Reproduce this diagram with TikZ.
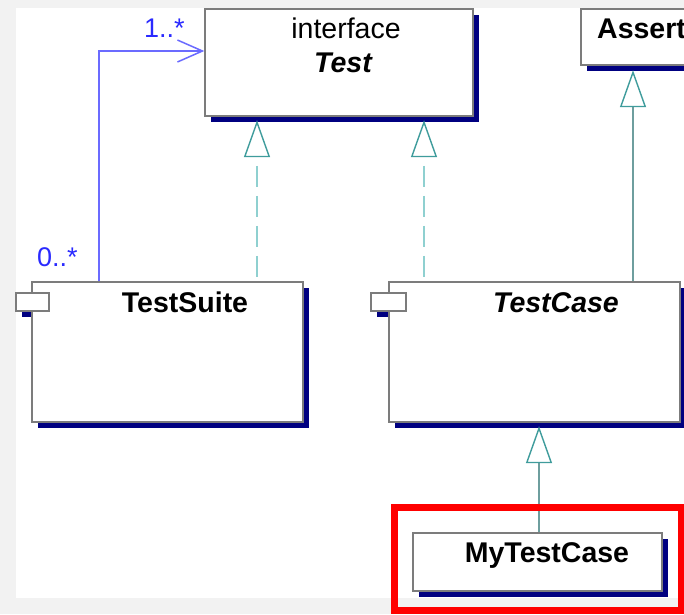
\documentclass[tikz,border=0pt]{standalone}
\usepackage{fontspec}
\setmainfont{Liberation Sans}
\usetikzlibrary{arrows.meta,shadows,calc}

\definecolor{pageedge}{HTML}{F2F2F2}
\definecolor{boxgray}{HTML}{7C7C7C}
\definecolor{shadownavy}{HTML}{000080}
\definecolor{tealpale}{HTML}{8FD0D0}
\definecolor{tealdark}{HTML}{3F9C9C}
\definecolor{tealline}{HTML}{6E9E9E}
\definecolor{assocblue}{HTML}{6B6BFF}
\definecolor{multblue}{HTML}{2A2AFF}

\newcommand\umlfs{\fontsize{28.5}{32}\selectfont}

\tikzset{
  classbox/.style={draw=boxgray, line width=1.4pt, fill=white, inner sep=0pt,
    general shadow={fill=shadownavy, shadow xshift=6pt, shadow yshift=-6pt}},
  tabbox/.style={draw=boxgray, line width=1.2pt, fill=white, inner sep=0pt},
  plainname/.style={font=\umlfs, inner sep=0pt, anchor=base},
  boldname/.style={font=\umlfs\bfseries, inner sep=0pt, anchor=base},
  abstractname/.style={font=\umlfs\bfseries\itshape, inner sep=0pt, anchor=base},
  mult/.style={font=\fontsize{27}{30}\selectfont, text=multblue, inner sep=0pt, anchor=base west},
  realize/.style={draw=tealpale, line width=1.5pt, dash pattern=on 21pt off 9pt, dash phase=21pt,
    {Triangle[length=37pt, width=26pt, fill=white, color=tealdark, line width=1.4pt]}-},
  generalize/.style={draw=tealline, line width=1.4pt,
    {Triangle[length=37pt, width=26pt, fill=white, color=tealdark, line width=1.4pt]}-},
  assoc/.style={draw=assocblue, line width=1.5pt,
    -{Straight Barb[length=25pt, width=22pt, line width=1.5pt]}},
  focusframe/.style={draw=red, line width=7pt, inner sep=0pt}
}

\begin{document}
\begin{tikzpicture}[x=1pt, y=-1pt]
  \useasboundingbox (0,0) rectangle (684,614);
  \clip (0,0) rectangle (684,614);

  % sheet
  \fill[pageedge] (0,0) rectangle (684,614);
  \fill[white] (16,8) rectangle (684,598);

  % interface Test
  \node[classbox, minimum width=268pt, minimum height=107pt] (test) at (339,62.5) {};
  \node[plainname] (testkw) at (346,38) {interface};
  \node[abstractname] (testname) at (343,72) {Test};

  % Assert
  \node[classbox, minimum width=160pt, minimum height=56pt] (assert) at (661,37) {};
  \node[boldname, anchor=base west] (assertname) at (597,38) {Assert};

  % TestSuite
  \fill[shadownavy] (22,299) rectangle (55,317);
  \node[classbox, minimum width=271pt, minimum height=140pt] (suite) at (167.5,352) {};
  \node[tabbox, minimum width=33pt, minimum height=18pt] (suitetab) at (32.5,302) {};
  \node[boldname] (suitename) at (185,312) {TestSuite};

  % TestCase
  \fill[shadownavy] (377,299) rectangle (412,317);
  \node[classbox, minimum width=291pt, minimum height=140pt] (case) at (534.5,352) {};
  \node[tabbox, minimum width=35pt, minimum height=18pt] (casetab) at (388.5,302) {};
  \node[abstractname] (casename) at (556,312) {TestCase};

  % MyTestCase
  \node[classbox, minimum width=249pt, minimum height=58pt] (mytest) at (537.5,562) {};
  \node[boldname] (mytestname) at (547,562) {MyTestCase};

  % realizations of Test
  \coordinate (suiterz) at ([xshift=89.5pt]suite.north);
  \coordinate (caserz) at ([xshift=-110.5pt]case.north);
  \draw[realize, shorten <=3.5pt] (suiterz |- test.south) -- (suiterz);
  \draw[realize, shorten <=3.5pt] (caserz |- test.south) -- (caserz);

  % generalizations
  \coordinate (casegen) at ([xshift=98.5pt]case.north);
  \draw[generalize, shorten <=4.5pt] (casegen |- assert.south) -- (casegen);
  \coordinate (mygen) at ([xshift=1.5pt]mytest.north);
  \draw[generalize, shorten <=3.5pt] (mygen |- case.south) -- (mygen);

  % association TestSuite -> Test
  \coordinate (assocfrom) at ([xshift=-68.5pt]suite.north);
  \coordinate (assocto) at ([yshift=11.5pt]test.west);
  \draw[assoc] (assocfrom) |- (assocto);
  \node[mult] (multto) at (144,37) {1..*};
  \node[mult] (multfrom) at (37,266) {0..*};

  % highlight around MyTestCase
  \node[focusframe, minimum width=287pt, minimum height=103pt] (focus) at (537.5,558.5) {};
\end{tikzpicture}
\end{document}
